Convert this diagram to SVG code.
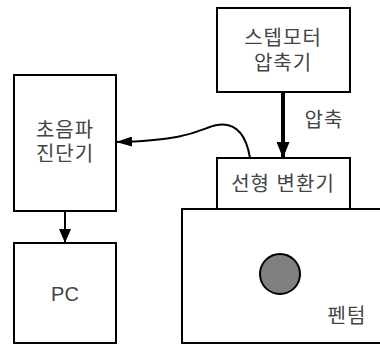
<svg xmlns="http://www.w3.org/2000/svg" width="380" height="349" viewBox="0 0 380 349">
<style>
.box{fill:#fff;stroke:#000;stroke-width:2}
.t{font-family:"Liberation Sans","Noto Sans CJK KR",sans-serif;font-size:20px;fill:#444;text-anchor:middle;letter-spacing:1px}
.pc{letter-spacing:0}
.c{fill:none;stroke:#000}
</style>
<defs>
<marker id="ah" markerWidth="14" markerHeight="12" refX="14" refY="6" orient="auto" markerUnits="userSpaceOnUse">
<path d="M0,0 L14,6 L0,12 Z" fill="#000"/>
</marker>
<marker id="ahL" markerWidth="16" markerHeight="13" refX="16" refY="6.5" orient="auto" markerUnits="userSpaceOnUse">
<path d="M0,0 L16,6.5 L0,13 Z" fill="#000"/>
</marker>
<marker id="ahC" markerWidth="16" markerHeight="10" refX="16" refY="5" orient="auto" markerUnits="userSpaceOnUse">
<path d="M0,0 L16,5 L0,10 Z" fill="#000"/>
</marker>
</defs>
<rect width="380" height="349" fill="#fff"/>
<g id="phantom">
<rect class="box" x="182" y="209" width="210" height="134"/>
<circle cx="280" cy="274" r="20" fill="#808080" stroke="#000" stroke-width="2"/>
<text class="t" x="347" y="323">펜텀</text>
</g>
<g id="converter">
<rect class="box" x="217" y="158" width="133" height="51"/>
<text class="t" x="283" y="191">선형 변환기</text>
</g>
<g id="stepmotor">
<rect class="box" x="217" y="8" width="133" height="84"/>
<text class="t" x="283" y="45">스텝모터</text>
<text class="t" x="283" y="70">압축기</text>
</g>
<g id="ultrasound">
<rect class="box" x="14" y="75" width="102" height="136"/>
<text class="t" x="65" y="137">초음파</text>
<text class="t" x="65" y="161">진단기</text>
</g>
<g id="pc">
<rect class="box" x="14" y="243" width="102" height="100"/>
<text class="t pc" x="65" y="301">PC</text>
</g>
<g id="connectors">
<line class="c" x1="283" y1="92" x2="283" y2="158" stroke-width="4" marker-end="url(#ahL)"/>
<text class="t" x="324" y="127">압축</text>
<path class="c" stroke-width="2" d="M250,158 C246,134 236,122 217,125 C200,128 196,140 116,142" marker-end="url(#ahC)"/>
<line class="c" x1="65" y1="211" x2="65" y2="243" stroke-width="2" marker-end="url(#ah)"/>
</g>
</svg>
